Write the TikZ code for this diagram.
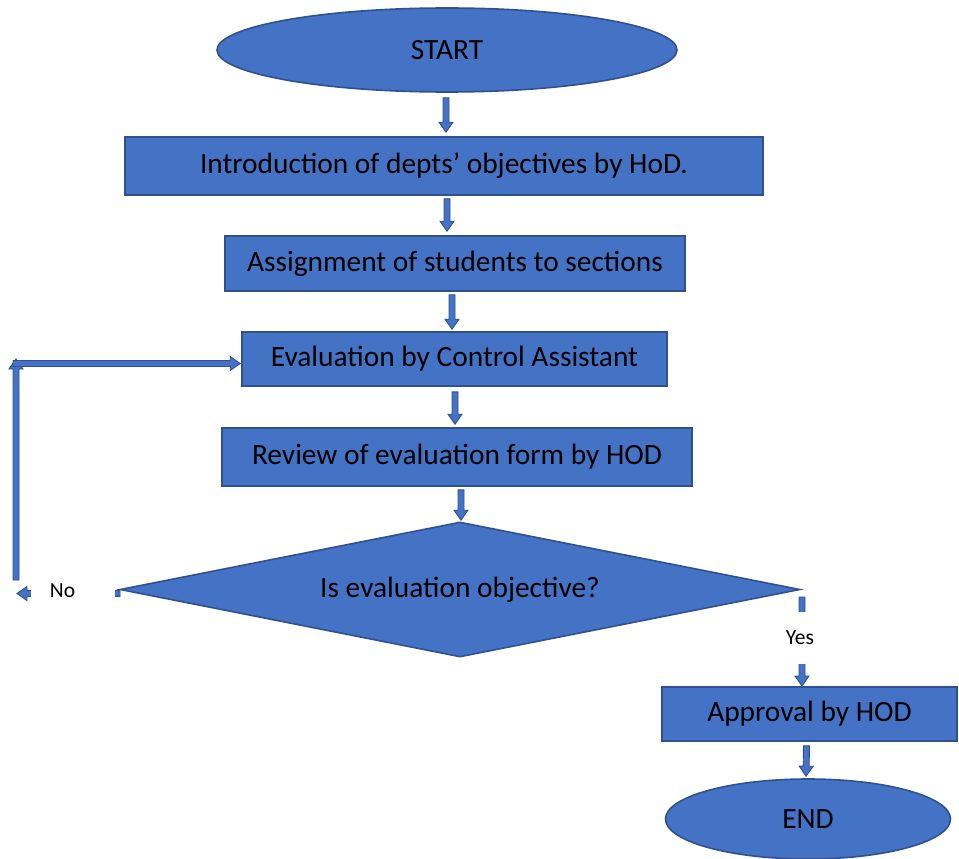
\documentclass[tikz,border=0pt]{standalone}
\usepackage{fontspec}
\setmainfont{Carlito}
\usetikzlibrary{shapes.geometric,calc}
\definecolor{blu}{HTML}{4472C4}
\definecolor{bord}{HTML}{2F528F}
\tikzset{
  stepbox/.style={rectangle, draw=bord, fill=blu, line width=1.6pt, inner sep=0pt, font=\fontsize{29.4}{33}\selectfont, text=black},
  term/.style={ellipse, draw=bord, fill=blu, line width=1.6pt, inner sep=0pt, font=\fontsize{29.4}{33}\selectfont, text=black},
  decide/.style={diamond, aspect=5.04, draw=bord, fill=blu, line width=1.6pt, inner sep=0pt, font=\fontsize{29.4}{33}\selectfont, text=black},
  lbl/.style={fill=white, inner sep=0pt, font=\fontsize{21.5}{25}\selectfont, text=black},
  barrowstyle/.style={draw=bord, fill=blu, line width=0.9pt, line join=miter}
}
\newcommand{\barrow}[2]{%
  \path let \p1=#1, \p2=#2, \n1={veclen(\x2-\x1,\y2-\y1)}, \n2={atan2(\y2-\y1,\x2-\x1)} in
    \pgfextra{\xdef\blen{\n1}\xdef\bang{\n2}\xdef\bx{\x1}\xdef\by{\y1}};
  \draw[barrowstyle, shift={(\bx,\by)}, rotate=\bang]
    (0pt,-3pt) -- ({(\blen-10)*1pt},-3pt) -- ({(\blen-10)*1pt},-7pt) -- ({\blen*1pt},0pt)
    -- ({(\blen-10)*1pt},7pt) -- ({(\blen-10)*1pt},3pt) -- (0pt,3pt) -- cycle;}
\begin{document}
\begin{tikzpicture}[x=1pt,y=-1pt]
\useasboundingbox (0,0) rectangle (959,859);
\node[term, minimum width=460pt, minimum height=84pt] (start) at (447,50) {START};
\node[stepbox, minimum width=638pt, minimum height=58pt] (b1) at (444,166) {Introduction of depts’ objectives by HoD.};
\node[stepbox, minimum width=460pt, minimum height=55pt] (b2) at (455,263.5) {Assignment of students to sections};
\node[stepbox, minimum width=425pt, minimum height=54pt] (b3) at (454.5,359) {Evaluation by Control Assistant};
\node[stepbox, minimum width=470pt, minimum height=58pt] (b4) at (457,457) {Review of evaluation form by HOD};
\node[decide, minimum width=680pt, minimum height=135pt] (dec) at (460,589.5) {Is evaluation objective?};
\node[stepbox, minimum width=295pt, minimum height=54pt] (appr) at (809.5,714) {Approval by HOD};
\node[term, minimum width=285pt, minimum height=80pt] (end) at (808,819) {END};
% main arrows
\barrow{([xshift=-1pt,yshift=-5pt]start.south)}{([xshift=2pt,yshift=4pt]b1.north)}
\barrow{([xshift=3pt,yshift=-3pt]b1.south)}{([xshift=3pt,yshift=4pt]b1.south |- b2.north)}
\barrow{([xshift=-3pt,yshift=-3pt]b2.south)}{([xshift=-3pt,yshift=2pt]b2.south |- b3.north)}
\barrow{([xshift=0.5pt,yshift=-5pt]b3.south)}{([xshift=0.5pt,yshift=3pt]b3.south |- b4.north)}
\barrow{([xshift=4pt,yshift=-3pt]b4.south)}{([xshift=1pt,yshift=1pt]dec.north)}
\barrow{([xshift=-3pt,yshift=-4pt]appr.south)}{([xshift=-2pt,yshift=2pt]end.north)}
% yes branch
\coordinate (ys) at (802,597);
\coordinate (ye) at (802,686);
\barrow{(ys)}{(ye)}
\node[lbl, minimum width=34pt, minimum height=52pt] (yes) at (800,638) {Yes};
% no branch
\coordinate (ns) at (120,593.5);
\coordinate (ne) at (17,593.5);
\barrow{(ns)}{(ne)}
\node[lbl, minimum width=84pt, minimum height=22pt] (no) at (73,591) {\hspace*{-21pt}No};
\coordinate (lb) at (16,580);
\coordinate (lc) at (16,359);
\barrow{(lb)}{(lc)}
\coordinate (ld) at (13,363.5);
\barrow{(ld)}{([xshift=-1pt,yshift=-4.5pt]b3.west)}
\end{tikzpicture}
\end{document}
